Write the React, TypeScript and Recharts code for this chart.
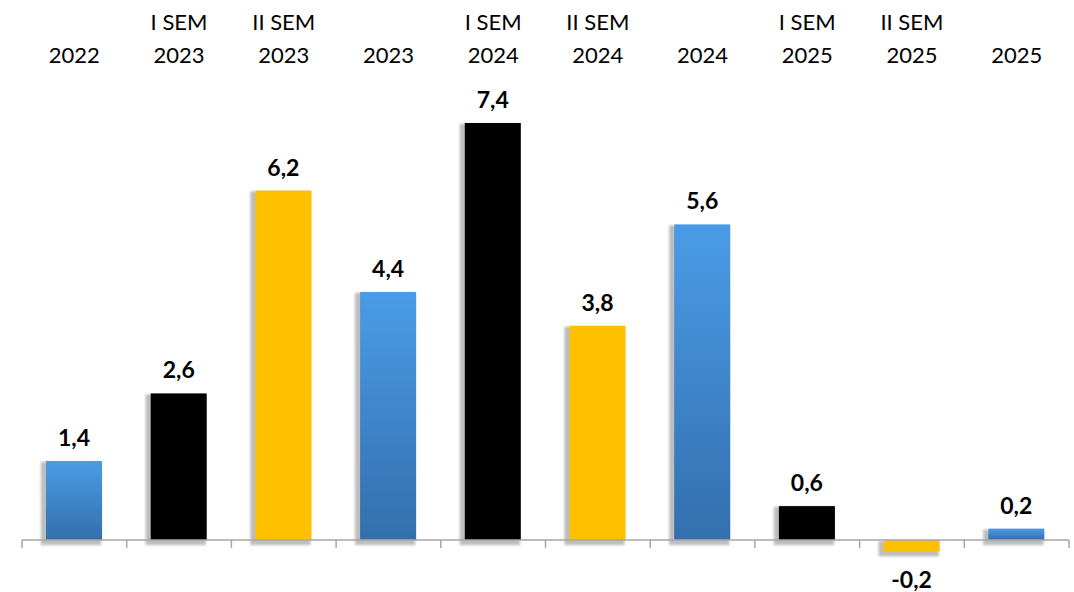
import { Bar, BarChart, Cell, LabelList, ReferenceLine, XAxis, YAxis } from 'recharts';

const categories = ['2022', 'I SEM 2023', 'II SEM 2023', '2023', 'I SEM 2024', 'II SEM 2024', '2024', 'I SEM 2025', 'II SEM 2025', '2025'];
const values = [1.4, 2.6, 6.2, 4.4, 7.4, 3.8, 5.6, 0.6, -0.2, 0.2];
const kinds = ['year', 'sem1', 'sem2', 'year', 'sem1', 'sem2', 'year', 'sem1', 'sem2', 'year'];

const colorFor: Record<string, string> = {
  year: 'url(#blueGrad)',
  sem1: '#000000',
  sem2: '#FFC000',
};

const data = categories.map((name, i) => ({ name, value: values[i], kind: kinds[i] }));

const font = 'Lato, "Open Sans", sans-serif';

function CategoryTick({ x, payload }: any) {
  const label: string = payload.value;
  const idx = label.lastIndexOf(' ');
  const first = idx > 0 ? label.slice(0, idx) : '';
  const second = idx > 0 ? label.slice(idx + 1) : label;
  return (
    <g>
      {first && (
        <text x={x} y={30} textAnchor="middle" fontSize={22} fontWeight={400} fontFamily={font} fill="#000">
          {first}
        </text>
      )}
      <text x={x} y={63} textAnchor="middle" fontSize={22} fontWeight={400} fontFamily={font} fill="#000">
        {second}
      </text>
    </g>
  );
}

function ValueLabel({ x, y, width, height, value }: any) {
  const top = Math.min(y, y + height);
  const bottom = Math.max(y, y + height);
  const ty = value >= 0 ? top - 15 : bottom + 37;
  return (
    <text x={x + width / 2} y={ty} textAnchor="middle" fontSize={23} fontWeight="bold" fontFamily={font} fill="#000">
      {String(value).replace('.', ',')}
    </text>
  );
}

// soft shadow faked with stacked translucent rects (offset left/down)
const shadowSteps = [7, 5, 3, 1];

function ShadowBar({ x, y, width, height, fill }: any) {
  const top = Math.min(y, y + height);
  const h = Math.abs(height);
  return (
    <g>
      {shadowSteps.map((s) => (
        <rect
          key={s}
          x={x - 3 - s / 2}
          y={top + 3 - s / 2}
          width={width + s}
          height={h + s}
          rx={s / 2}
          fill="#000"
          fillOpacity={0.07}
        />
      ))}
      <rect x={x} y={top} width={width} height={h} fill={fill} />
    </g>
  );
}

function ZeroAxis({ x1, y1, x2 }: any) {
  const n = categories.length;
  const step = (x2 - x1) / n;
  const ticks = Array.from({ length: n + 1 }, (_, i) => x1 + i * step);
  return (
    <g>
      <line x1={x1} y1={y1} x2={x2} y2={y1} stroke="#A6A6A6" strokeWidth={1.5} />
      {ticks.map((tx, i) => (
        <line key={i} x1={tx} y1={y1} x2={tx} y2={y1 + 8} stroke="#A6A6A6" strokeWidth={1.5} />
      ))}
    </g>
  );
}

export default function App() {
  return (
    <div style={{ position: 'absolute', left: 0, top: 0, width: 1074, height: 592, background: '#fff' }}>
      <BarChart width={1074} height={592} data={data} margin={{ top: 23, right: 5, left: 22, bottom: 7 }}>
        <defs>
          <linearGradient id="blueGrad" x1="0" y1="0" x2="0" y2="1">
            <stop offset="0%" stopColor="#4A9CE6" />
            <stop offset="100%" stopColor="#336FAE" />
          </linearGradient>
        </defs>
        <XAxis
          dataKey="name"
          orientation="top"
          height={100}
          axisLine={false}
          tickLine={false}
          tick={<CategoryTick />}
          interval={0}
        />
        <YAxis hide domain={[-0.8, 7.4]} />
        <Bar dataKey="value" barSize={56} isAnimationActive={false} shape={<ShadowBar />}>
          {data.map((d, i) => (
            <Cell key={i} fill={colorFor[d.kind]} />
          ))}
          <LabelList dataKey="value" content={<ValueLabel />} />
        </Bar>
        <ReferenceLine y={0} shape={<ZeroAxis />} />
      </BarChart>
    </div>
  );
}
